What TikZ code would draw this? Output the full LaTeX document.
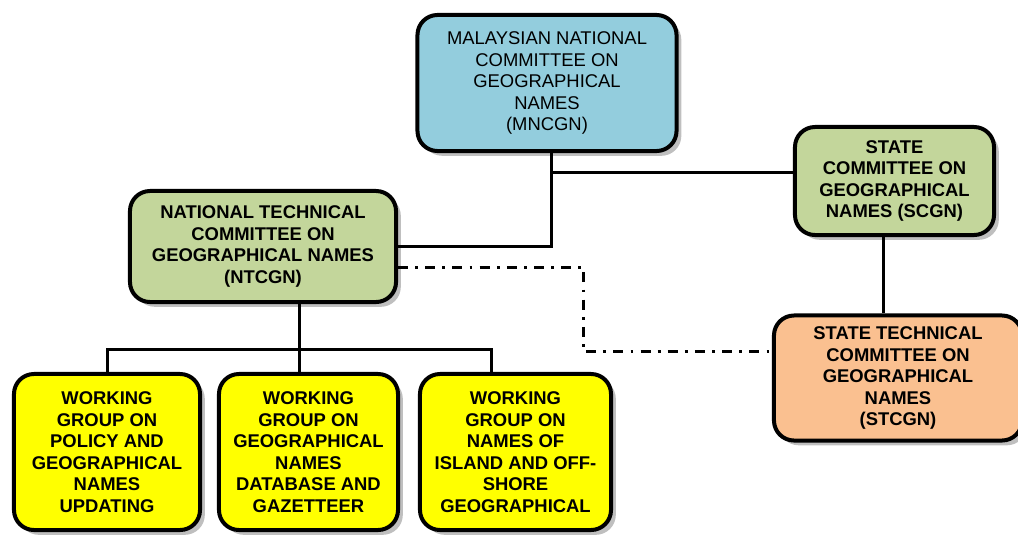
\documentclass[tikz,border=0pt]{standalone}
\usepackage{fontspec}
\setmainfont{Liberation Sans}
\usetikzlibrary{shadows}
\definecolor{mnblue}{HTML}{93CDDD}
\definecolor{tcgreen}{HTML}{C3D69B}
\definecolor{wgyellow}{HTML}{FFFF00}
\definecolor{storange}{HTML}{FAC090}
\begin{document}
\begin{tikzpicture}[x=0.025cm,y=-0.025cm,
		unit/.style={draw,fill=#1,line width=0.1cm,rounded corners=0.5cm,align=center,
			inner sep=0pt,font=\fontsize{13.1}{15.3}\selectfont,
			drop shadow={shadow xshift=0.12cm,shadow yshift=-0.12cm,fill=black!50}},
		heavy/.style={unit=#1,font=\fontsize{13.1}{15.3}\selectfont\bfseries},
		link/.style={line width=0.075cm},
		dashlink/.style={line width=0.075cm,dash pattern=on 0.25cm off 0.18cm on 0.07cm off 0.18cm}]
		\useasboundingbox (0,0) rectangle (1018,534);
		\clip (0,0) rectangle (1018,534);
		
		% committees
		\node[unit=mnblue,minimum width=6.475cm,minimum height=3.4cm] (mncgn) at (547,83)
			{MALAYSIAN NATIONAL\\COMMITTEE ON\\GEOGRAPHICAL\\NAMES\\(MNCGN)};
		\node[heavy=tcgreen,minimum width=6.65cm,minimum height=2.775cm] (ntcgn) at (263,246.5)
			{NATIONAL TECHNICAL\\COMMITTEE ON\\GEOGRAPHICAL NAMES\\(NTCGN)};
		\node[heavy=tcgreen,minimum width=4.975cm,minimum height=2.7cm] (scgn) at (894.5,181)
			{STATE\\COMMITTEE ON\\GEOGRAPHICAL\\NAMES (SCGN)};
		\node[heavy=storange,minimum width=6.2cm,minimum height=3.125cm] (stcgn) at (898,378)
			{STATE TECHNICAL\\COMMITTEE ON\\GEOGRAPHICAL\\NAMES\\(STCGN)};
		
		% working groups
		\node[heavy=wgyellow,minimum width=4.65cm,minimum height=3.9cm] (wga) at (107,452)
			{WORKING\\GROUP ON\\POLICY AND\\GEOGRAPHICAL\\NAMES\\UPDATING};
		\node[heavy=wgyellow,minimum width=4.475cm,minimum height=3.9cm] (wgb) at (308.5,452)
			{WORKING\\GROUP ON\\GEOGRAPHICAL\\NAMES\\DATABASE AND\\GAZETTEER};
		\node[heavy=wgyellow,minimum width=4.775cm,minimum height=3.9cm] (wgc) at (515.5,452)
			{WORKING\\GROUP ON\\NAMES OF\\ISLAND AND OFF-\\SHORE\\GEOGRAPHICAL};
		
		% links
		\coordinate (mnjoin) at (551,172);
		\draw[link] (mncgn.south -| mnjoin) |- (ntcgn.east);
		\draw[link] (mnjoin) -- (mnjoin -| scgn.west);
		\draw[link] ([xshift=-0.28cm]scgn.south) -- ([xshift=-0.28cm]scgn.south |- stcgn.north);
		
		\coordinate (dturn) at (583,267);
		\coordinate (dbend) at (583,351);
		\draw[dashlink] (dturn -| ntcgn.east) -- (dturn) -- (dbend) -- (dbend -| stcgn.west);
		
		\coordinate (bus) at (299,349);
		\coordinate (busend) at (491,349);
		\draw[link] (bus |- ntcgn.south) -- (bus);
		\draw[link] (wga.north) |- (busend) -- (busend |- wgc.north);
		\draw[link] (bus) -- (bus |- wgb.north);
	\end{tikzpicture}
\end{document}
